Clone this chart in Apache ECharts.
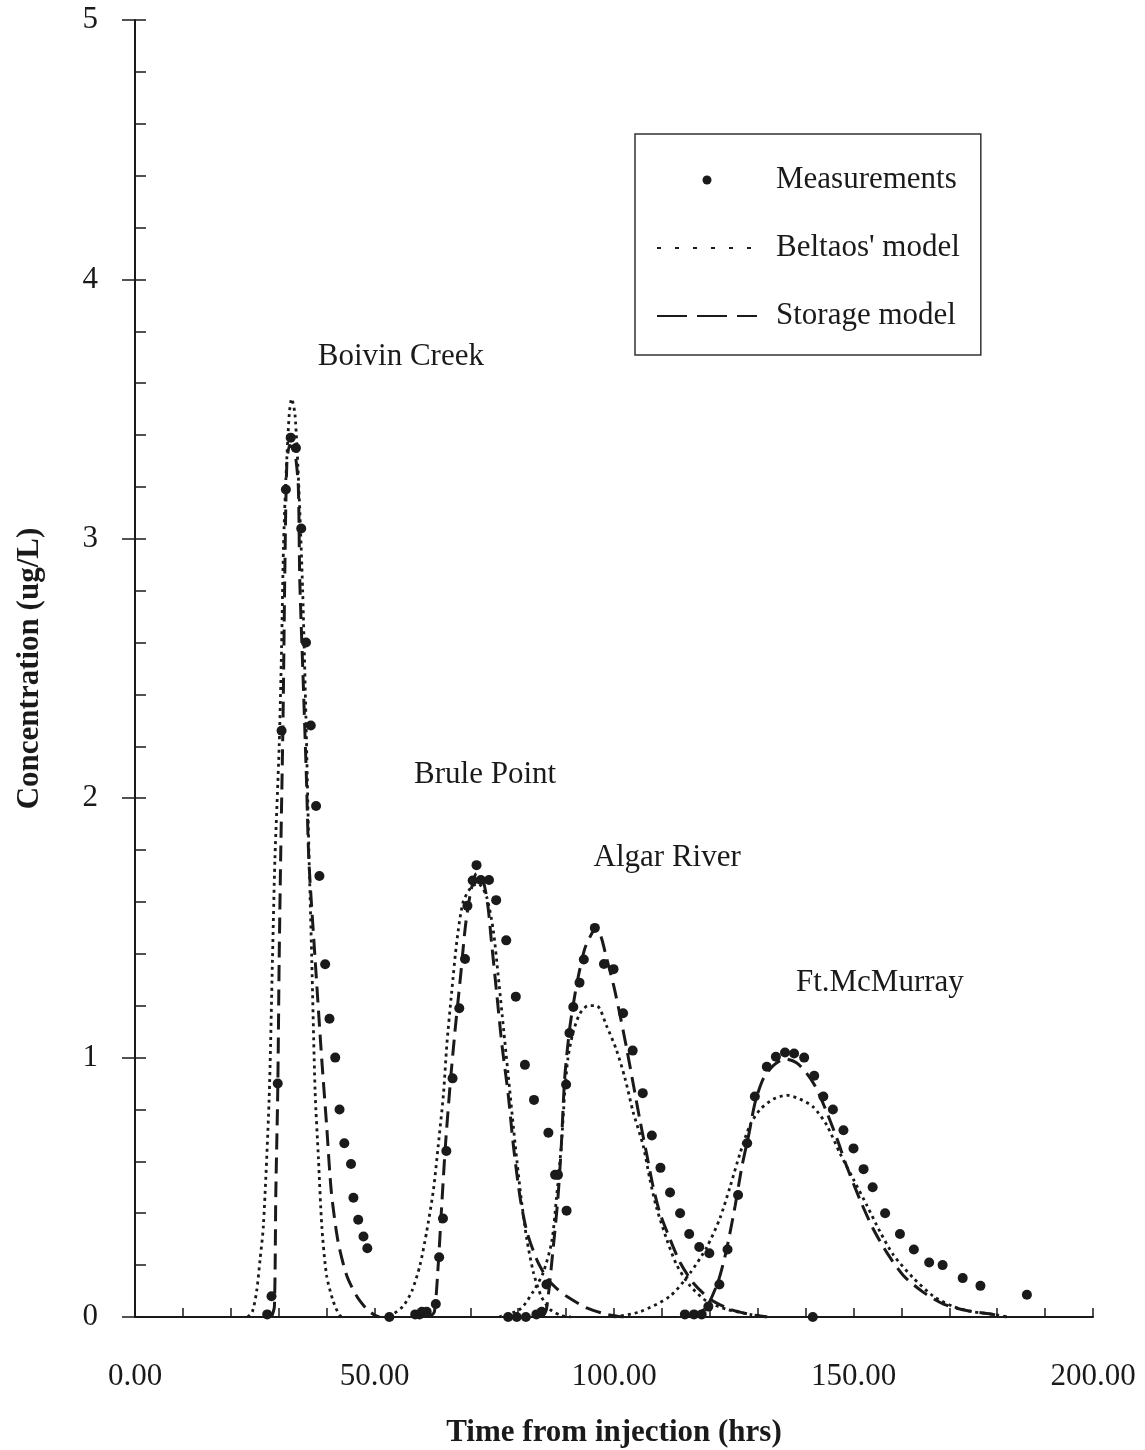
<!DOCTYPE html>
<html>
<head>
<meta charset="utf-8">
<script src="https://cdn.jsdelivr.net/npm/echarts@6.0.0/dist/echarts.min.js"></script>
<style>
html, body { margin: 0; padding: 0; background: #fff; }
#chart { width: 1145px; height: 1450px; }
</style>
</head>
<body>
<div id="chart"></div>
<script>
// measured concentrations, [time (hrs), concentration (ug/L)], all four stations
var measurements = [
  [27.6,0.01],[28.5,0.08],[29.8,0.90],[30.6,2.26],[31.5,3.19],[32.5,3.39],[33.6,3.35],[34.7,3.04],
  [35.7,2.60],[36.7,2.28],[37.8,1.97],[38.5,1.70],[39.7,1.36],[40.6,1.15],[41.8,1.00],[42.7,0.80],
  [43.7,0.67],[45.1,0.59],[45.6,0.46],[46.6,0.375],[47.7,0.31],[48.5,0.265],[53.1,0],
  [58.5,0.01],[59.4,0.01],[59.9,0.02],[60.9,0.02],[62.8,0.05],[63.5,0.23],[64.3,0.38],[65.0,0.64],
  [66.3,0.92],[67.7,1.19],[68.9,1.38],[69.4,1.585],[70.5,1.683],[71.3,1.742],[72.2,1.685],[73.9,1.685],
  [75.4,1.607],[77.5,1.452],[79.5,1.235],[81.4,0.972],[83.3,0.837],[86.3,0.71],[87.7,0.548],[88.3,0.548],
  [90.1,0.41],
  [77.9,0],[79.7,0],[81.6,0],[83.8,0.01],[84.9,0.02],[85.9,0.125],
  [90.0,0.896],[90.7,1.095],[91.5,1.195],[92.8,1.289],[93.7,1.378],[96.0,1.50],[97.9,1.361],[99.9,1.341],
  [101.9,1.171],[103.9,1.027],[106.0,0.863],[107.9,0.70],[109.7,0.575],[111.7,0.48],[113.8,0.40],
  [115.7,0.32],[117.8,0.27],[119.9,0.246],
  [114.8,0.01],[116.7,0.01],[118.3,0.01],[119.7,0.04],
  [122.0,0.125],[123.7,0.26],[125.9,0.47],[127.8,0.67],[129.4,0.85],[131.9,0.965],[133.8,1.003],
  [135.7,1.02],[137.6,1.016],[139.7,1.0],[141.8,0.93],[143.7,0.85],[145.7,0.80],[147.9,0.72],
  [150.0,0.65],[152.1,0.57],[154.0,0.50],[156.6,0.40],[159.7,0.32],[162.6,0.26],[165.8,0.21],
  [168.6,0.20],[172.8,0.15],[176.5,0.12],[186.2,0.086],[141.5,0]
];

// Beltaos' model curves
var boivinBeltaos = [[23.5,0],[24.5,0.02],[25.4,0.1],[26.1,0.22],[26.8,0.35],[28.0,0.84],[28.7,1.38],[29.2,1.76],
  [30.1,2.2],[30.6,2.58],[31.0,2.97],[31.5,3.23],[32.2,3.48],[32.7,3.54],[33.4,3.48],[34.2,3.2],[35.0,2.8],
  [35.7,2.3],[36.3,1.8],[36.9,1.38],[37.6,0.87],[38.3,0.61],[39.0,0.35],[40.0,0.16],[41.4,0.06],[42.8,0.005],[44,0]];
var bruleBeltaos = [[53,0],[55.9,0.04],[57.8,0.1],[59.5,0.2],[60.9,0.33],[62.3,0.49],[63.3,0.66],[64.4,0.86],
  [65.1,1.05],[66.1,1.25],[67.2,1.45],[68.5,1.6],[70.3,1.66],[71.7,1.67],[73.4,1.62],[74.8,1.49],[75.8,1.32],
  [77.0,1.1],[78.2,0.88],[79.4,0.66],[80.6,0.46],[81.8,0.3],[83.2,0.17],[84.8,0.08],[86.6,0.03],[89,0.005],[91,0]];
var algarBeltaos = [[76,0],[80.4,0.03],[83.2,0.1],[85.2,0.17],[87.0,0.29],[88.0,0.46],[89.0,0.66],[89.7,0.86],
  [90.4,1.0],[91.5,1.1],[92.9,1.17],[94.6,1.2],[96.4,1.2],[98.5,1.12],[100.5,1.03],[102.3,0.92],[104.0,0.79],
  [106.1,0.66],[107.5,0.53],[108.9,0.42],[111,0.3],[113.1,0.2],[115.9,0.12],[119.4,0.06],[123.5,0.03],[128.4,0.01],[132,0]];
var mcmurrayBeltaos = [[100,0],[105.4,0.02],[111.7,0.08],[115.9,0.17],[119.4,0.27],[122.1,0.38],[124.2,0.5],
  [126.3,0.63],[128.4,0.74],[130.5,0.8],[133.3,0.84],[136.0,0.855],[138.8,0.84],[141.6,0.81],[144.4,0.74],
  [147.2,0.63],[150.0,0.53],[152.8,0.43],[155.5,0.33],[158.3,0.24],[162.5,0.15],[166.7,0.08],[170.9,0.04],
  [175.0,0.02],[179.2,0.01],[182,0]];

// storage model curves
var boivinStorage = [[28.5,0],[29.1,0.04],[29.4,0.48],[29.8,0.87],[30.1,1.38],[30.4,1.76],[30.9,2.3],[31.3,2.9],
  [31.7,3.29],[32.3,3.36],[32.9,3.35],[33.5,3.32],[34.1,3.2],[34.4,2.84],[35.1,2.46],[35.8,2.07],[36.3,1.76],
  [37.6,1.38],[39.0,0.99],[40.0,0.74],[41.0,0.48],[42.4,0.29],[44.2,0.16],[46.3,0.08],[48.4,0.03],[49.8,0.01],[51,0]];
var bruleStorage = [[61.5,0],[62.5,0.02],[63.3,0.2],[64.0,0.42],[64.8,0.66],[65.9,0.92],[66.9,1.12],[68.0,1.32],
  [69.0,1.51],[70.1,1.64],[71.3,1.71],[72.7,1.68],[73.7,1.58],[74.4,1.45],[75.5,1.25],[76.6,1.05],[77.9,0.86],
  [79.0,0.66],[80.4,0.46],[81.8,0.33],[83.9,0.22],[86,0.15],[88,0.11],[90.1,0.08],[94.3,0.035],[98.5,0.01],[102,0]];
var algarStorage = [[85.0,0],[85.9,0.03],[87.3,0.265],[88.3,0.46],[89.0,0.66],[89.7,0.92],[90.8,1.12],[92.2,1.28],
  [93.9,1.42],[95.7,1.49],[96.4,1.505],[97.4,1.46],[98.5,1.38],[99.9,1.28],[101.3,1.16],[102.7,1.03],[104.0,0.9],
  [105.4,0.76],[106.8,0.63],[108.2,0.5],[109.6,0.4],[111.7,0.3],[113.8,0.21],[116.6,0.13],[120.0,0.07],
  [124.2,0.03],[128.4,0.01],[132,0]];
var mcmurrayStorage = [[116,0],[117.3,0.01],[119.4,0.04],[121.8,0.14],[123.5,0.26],[125.3,0.43],[126.7,0.58],
  [128.1,0.7],[129.5,0.83],[131.2,0.92],[133.3,0.97],[135.7,0.995],[138.1,0.98],[140.2,0.94],[142.3,0.88],
  [144.4,0.79],[146.5,0.69],[148.6,0.58],[151.4,0.45],[154.1,0.34],[156.9,0.25],[160.4,0.16],[164.6,0.095],
  [168.8,0.05],[173.6,0.025],[179.2,0.01],[182,0]];

// station labels and where they sit (data coords)
var stationNames = ['Boivin Creek', 'Brule Point', 'Algar River', 'Ft.McMurray'];
var stationLabelAt = [[55.5,3.70],[73.1,2.09],[111.1,1.77],[155.5,1.29]];

var FONT = "'Liberation Serif', 'DejaVu Serif', serif";
var INK = '#1a1a1a';

var chart = echarts.init(document.getElementById('chart'));

function beltaos(data) {
  return {
    name: "Beltaos' model", type: 'line', data: data, symbol: 'none', smooth: 0.25,
    itemStyle: { color: INK },
    lineStyle: { color: INK, width: 2.8, type: [3, 4] }, z: 2, silent: true
  };
}
function storage(data) {
  return {
    name: 'Storage model', type: 'line', data: data, symbol: 'none', smooth: 0.25,
    itemStyle: { color: INK },
    lineStyle: { color: INK, width: 3, type: [16, 8] }, z: 3, silent: true
  };
}

var series = [
  {
    name: 'Measurements', type: 'scatter', data: measurements, symbol: 'circle', symbolSize: 10,
    itemStyle: { color: INK, opacity: 1 }, z: 5, silent: true
  },
  beltaos(boivinBeltaos), beltaos(bruleBeltaos), beltaos(algarBeltaos), beltaos(mcmurrayBeltaos),
  storage(boivinStorage), storage(bruleStorage), storage(algarStorage), storage(mcmurrayStorage),
  {
    name: 'stations', type: 'scatter', symbolSize: 0, silent: true,
    itemStyle: { color: INK, opacity: 1 },
    data: stationNames.map(function (n, i) { return { name: n, value: stationLabelAt[i] }; }),
    label: { show: true, position: 'inside', formatter: '{b}', fontFamily: FONT, fontSize: 31, color: INK, opacity: 1 }
  }
];

chart.setOption({
  animation: false,
  backgroundColor: '#fff',
  grid: { left: 135, right: 52, top: 20, bottom: 133, outerBoundsMode: 'none' },
  legend: {
    left: 635, top: 134, orient: 'vertical', selectedMode: false,
    itemWidth: 100, itemHeight: 9, itemGap: 34,
    padding: [29, 21, 22, 21],
    borderColor: '#333', borderWidth: 1.5, borderRadius: 0,
    textStyle: { fontFamily: FONT, fontSize: 31, color: INK, lineHeight: 34, padding: [0, 0, 0, 14] },
    data: [
      { name: 'Measurements', icon: 'circle', itemStyle: { color: INK, opacity: 1 } },
      { name: "Beltaos' model", itemStyle: { opacity: 0 }, lineStyle: { type: [4, 14], width: 2, color: INK } },
      { name: 'Storage model', itemStyle: { opacity: 0 }, lineStyle: { type: [30, 10], width: 2, color: INK } }
    ]
  },
  xAxis: {
    type: 'value', min: 0, max: 200, interval: 10,
    name: 'Time from injection (hrs)', nameLocation: 'middle', nameGap: 100,
    nameTextStyle: { fontFamily: FONT, fontSize: 31, fontWeight: 'bold', color: INK },
    axisLine: { show: true, lineStyle: { color: INK, width: 2 } },
    axisTick: { show: true, inside: true, length: 9, lineStyle: { color: INK, width: 1.5 } },
    axisLabel: {
      interval: 0, margin: 44, fontFamily: FONT, fontSize: 31, color: INK,
      formatter: function (v) { return v % 50 === 0 ? v.toFixed(2) : ''; }
    },
    splitLine: { show: false }
  },
  yAxis: [
    {
      type: 'value', min: 0, max: 5, interval: 1,
      name: 'Concentration (ug/L)', nameLocation: 'middle', nameGap: 90, nameRotate: 90,
      nameTextStyle: { fontFamily: FONT, fontSize: 31, fontWeight: 'bold', color: INK },
      axisLine: { show: true, lineStyle: { color: INK, width: 2 } },
      axisTick: { show: true, inside: false, length: 13, lineStyle: { color: INK, width: 1.5 } },
      axisLabel: { margin: 37, fontFamily: FONT, fontSize: 31, color: INK },
      splitLine: { show: false }
    },
    {
      type: 'value', min: 0, max: 5, interval: 0.2, position: 'left',
      axisLine: { show: false },
      axisTick: { show: true, inside: true, length: 11, lineStyle: { color: INK, width: 1.5 } },
      axisLabel: { show: false },
      splitLine: { show: false }
    }
  ],
  series: series
});
</script>
</body>
</html>
